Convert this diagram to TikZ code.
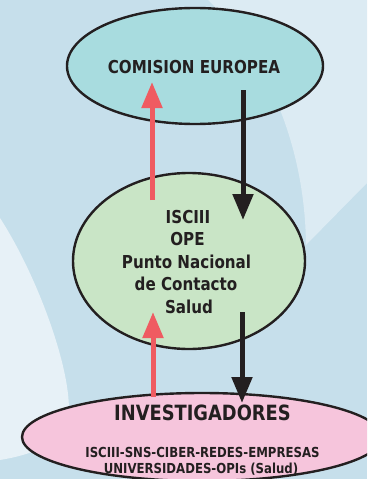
\documentclass[tikz,border=0pt]{standalone}
\usepackage{fontspec}
\setmainfont{DejaVu Sans}[FakeStretch=0.85]
\usetikzlibrary{arrows.meta,shapes.geometric}
\definecolor{bgblue}{HTML}{C6DFEB}
\definecolor{bglight}{HTML}{DCEBF3}
\definecolor{bgwhite}{HTML}{E7F1F7}
\definecolor{cefill}{HTML}{A8DCDF}
\definecolor{opefill}{HTML}{C9E5C6}
\definecolor{invfill}{HTML}{F6C5DC}
\definecolor{redarr}{HTML}{EF5B61}
\definecolor{darkarr}{HTML}{231F20}
\tikzset{
  oval/.style={ellipse, draw=darkarr, line width=2.4pt, inner sep=0pt},
  lbl/.style={anchor=base, inner sep=0pt, text=darkarr, font=\bfseries},
  uparrow/.style={draw=redarr, line width=5pt, -{Triangle[width=20pt,length=26pt]}},
  downarrow/.style={draw=darkarr, line width=5pt, -{Triangle[width=20pt,length=26pt]}}
}
\begin{document}
\begin{tikzpicture}[x=1pt,y=-1pt]
\clip (0,0) rectangle (367,479);
% background
\fill[bgblue] (0,0) rectangle (367,479);
\fill[bglight] (208,0) .. controls (270,60) and (305,150) .. (306,245) -- (367,183) -- (367,0) -- cycle;
\fill[bgwhite] (0,218) .. controls (40,280) and (75,380) .. (68,420) .. controls (60,445) and (30,455) .. (0,460) -- cycle;
% ellipses
\node[oval, fill=cefill, minimum width=256pt, minimum height=116pt] (ce) at (195,66) {};
\node[oval, fill=opefill, minimum width=232pt, minimum height=176pt] (ope) at (189,261) {};
\node[oval, fill=invfill, minimum width=360pt, minimum height=88pt] (inv) at (202,437) {};
% texts
\node[lbl, font=\bfseries\fontsize{17.8}{22}\selectfont] (cet) at (194,73) {COMISION EUROPEA};
\node[lbl, font=\bfseries\fontsize{17.8}{22}\selectfont] (o1) at (188,223) {ISCIII};
\node[lbl, font=\bfseries\fontsize{17.8}{22}\selectfont] (o2) at (187.5,245.5) {OPE};
\node[lbl, font=\bfseries\fontsize{17.8}{22}\selectfont] (o3) at (186.5,268) {Punto Nacional};
\node[lbl, font=\bfseries\fontsize{17.8}{22}\selectfont] (o4) at (186,290.5) {de Contacto};
\node[lbl, font=\bfseries\fontsize{17.8}{22}\selectfont] (o5) at (189,313) {Salud};
\node[lbl, font=\bfseries\fontsize{21}{24}\selectfont] (it) at (202.5,420) {INVESTIGADORES};
\node[lbl, font=\bfseries\fontsize{13.8}{16}\selectfont] (i1) at (202.5,457) {ISCIII-SNS-CIBER-REDES-EMPRESAS};
\node[lbl, font=\bfseries\fontsize{13.8}{16}\selectfont] (i2) at (201,473) {UNIVERSIDADES-OPIs (Salud)};
% arrow end points
\coordinate (r1s) at (152,200);
\coordinate (r1e) at (152,82);
\coordinate (b1s) at (243,90);
\coordinate (b1e) at (243,220);
\coordinate (r2s) at (153,397);
\coordinate (r2e) at (153,312);
\coordinate (b2s) at (242,312);
\coordinate (b2e) at (242,403);
\draw[uparrow] (r1s) -- (r1e);
\draw[downarrow] (b1s) -- (b1e);
\draw[uparrow] (r2s) -- (r2e);
\draw[downarrow] (b2s) -- (b2e);
\end{tikzpicture}
\end{document}
